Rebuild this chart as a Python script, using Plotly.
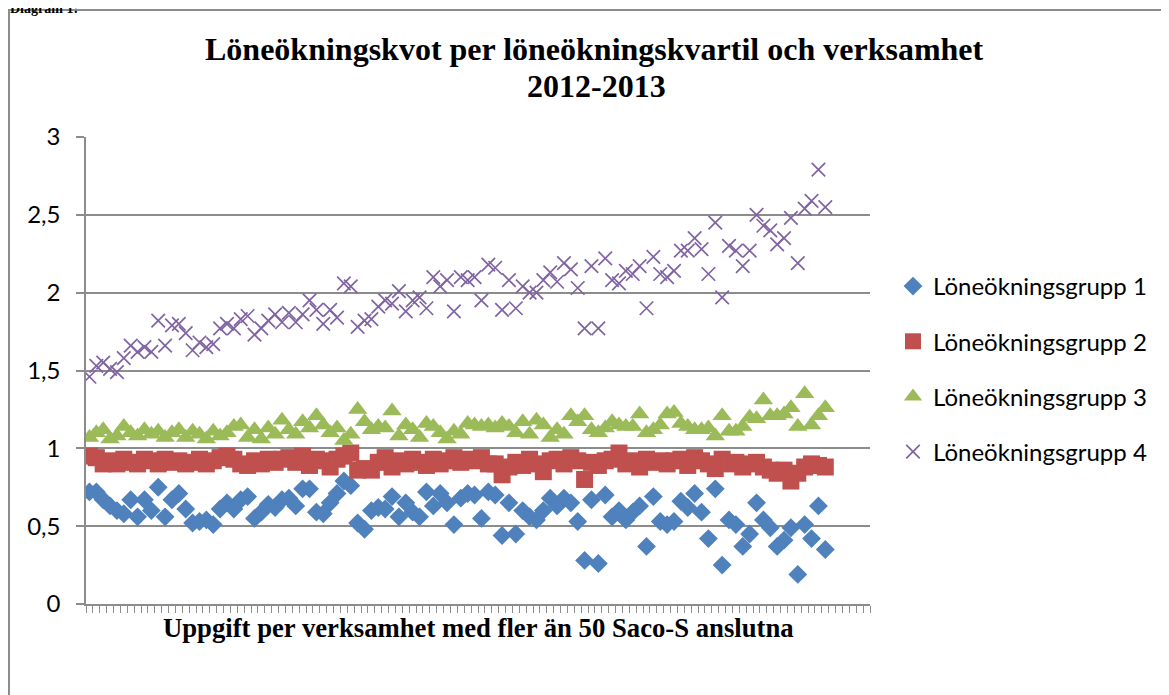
import plotly.graph_objects as go

series_names = ["Löneökningsgrupp 1", "Löneökningsgrupp 2", "Löneökningsgrupp 3", "Löneökningsgrupp 4"]
n_categories = 114

g1 = [0.72,0.72,0.67,0.63,0.60,0.58,0.67,0.56,0.67,0.60,
      0.75,0.56,0.67,0.71,0.61,0.52,0.53,0.54,0.51,0.61,
      0.65,0.61,0.67,0.69,0.55,0.59,0.64,0.62,0.67,0.68,
      0.63,0.74,0.74,0.59,0.58,0.65,0.71,0.79,0.76,0.52,
      0.48,0.60,0.62,0.61,0.69,0.56,0.65,0.59,0.56,0.72,
      0.63,0.71,0.65,0.51,0.68,0.71,0.70,0.55,0.72,0.70,
      0.44,0.65,0.45,0.60,0.56,0.54,0.60,0.68,0.63,0.68,
      0.65,0.53,0.28,0.67,0.26,0.70,0.56,0.60,0.54,0.59,
      0.63,0.37,0.69,0.53,0.51,0.53,0.66,0.62,0.71,0.59,
      0.42,0.74,0.25,0.54,0.51,0.37,0.45,0.65,0.54,0.49,
      0.37,0.41,0.49,0.19,0.51,0.42,0.63,0.35]

g2 = [0.95,0.94,0.90,0.92,0.90,0.93,0.91,0.90,0.93,0.92,
      0.90,0.93,0.91,0.92,0.90,0.91,0.93,0.90,0.92,0.94,
      0.95,0.93,0.90,0.89,0.92,0.90,0.93,0.91,0.93,0.94,
      0.91,0.95,0.89,0.93,0.92,0.88,0.93,0.95,0.97,0.86,
      0.87,0.86,0.91,0.94,0.88,0.92,0.90,0.93,0.91,0.89,
      0.93,0.90,0.92,0.94,0.91,0.93,0.92,0.94,0.90,0.90,
      0.83,0.88,0.91,0.89,0.93,0.90,0.85,0.92,0.93,0.90,
      0.94,0.92,0.80,0.91,0.89,0.92,0.93,0.97,0.90,0.92,
      0.88,0.93,0.91,0.92,0.90,0.92,0.93,0.89,0.94,0.92,
      0.90,0.87,0.93,0.90,0.91,0.88,0.90,0.91,0.88,0.86,
      0.84,0.86,0.79,0.84,0.88,0.90,0.89,0.88]

g3 = [1.07,1.10,1.12,1.06,1.08,1.14,1.10,1.08,1.12,1.09,
      1.11,1.07,1.10,1.12,1.07,1.11,1.09,1.06,1.11,1.08,
      1.10,1.14,1.15,1.07,1.12,1.06,1.13,1.09,1.18,1.12,
      1.09,1.17,1.13,1.21,1.15,1.10,1.13,1.05,1.09,1.25,
      1.17,1.12,1.14,1.13,1.24,1.08,1.15,1.12,1.07,1.16,
      1.14,1.10,1.06,1.11,1.09,1.16,1.15,1.14,1.15,1.13,
      1.16,1.14,1.10,1.17,1.09,1.18,1.15,1.07,1.12,1.09,
      1.21,1.17,1.21,1.12,1.10,1.13,1.17,1.15,1.14,1.14,
      1.22,1.10,1.12,1.15,1.22,1.23,1.16,1.14,1.12,1.12,
      1.13,1.08,1.21,1.11,1.11,1.14,1.20,1.19,1.31,1.21,
      1.21,1.22,1.26,1.14,1.35,1.15,1.21,1.26]

g4 = [1.46,1.53,1.55,1.51,1.49,1.58,1.66,1.62,1.65,1.62,
      1.82,1.66,1.79,1.80,1.74,1.63,1.68,1.65,1.67,1.77,
      1.80,1.77,1.83,1.85,1.73,1.77,1.82,1.86,1.81,1.87,
      1.81,1.86,1.95,1.89,1.80,1.89,1.84,2.06,2.04,1.78,
      1.82,1.83,1.91,1.95,1.93,2.01,1.88,1.95,1.97,1.90,
      2.10,2.04,2.08,1.88,2.10,2.08,2.10,1.95,2.18,2.16,
      1.89,2.08,1.90,2.04,2.00,2.00,2.08,2.13,2.07,2.19,
      2.15,2.03,1.77,2.17,1.77,2.22,2.08,2.06,2.14,2.12,
      2.17,1.90,2.23,2.12,2.10,2.14,2.27,2.27,2.35,2.28,
      2.12,2.45,1.97,2.30,2.27,2.17,2.27,2.50,2.43,2.40,
      2.31,2.35,2.48,2.19,2.54,2.59,2.79,2.55]

y_ticks = [0, 0.5, 1, 1.5, 2, 2.5, 3]

# The page body has an 8px margin, so the figure is offset by 8px in the screenshot.
OFF = 8
W, H = 1169 - OFF, 695 - OFF
# plot area in screenshot pixels: x 86..870, y 137..604
ML, MT = 86 - OFF, 137 - OFF
MR = W - (870 - OFF)
MB = H - (604 - OFF)
PW, PH = W - ML - MR, H - MT - MB


def px_x(px):
    return (px - OFF - ML) / PW


def px_y(py):
    return (H - MB - (py - OFF)) / PH


x = list(range(1, len(g1) + 1))
styles = [
    dict(symbol="diamond", size=14.5, color="#4F81BD"),
    dict(symbol="square", size=17, color="#C0504D"),
    dict(symbol="triangle-up", size=17, color="#9BBB59"),
    dict(symbol="x-thin", size=13.5, color="#8064A2", line=dict(width=1.7, color="#8064A2")),
]

fig = go.Figure()
for name, vals, st in zip(series_names, [g1, g2, g3, g4], styles):
    fig.add_trace(go.Scatter(x=x, y=vals, mode="markers", name=name, marker=st,
                             legendgroup=name))

grid_col = "#8C8C8C"
fig.update_layout(
    width=W, height=H,
    margin=dict(l=ML, r=MR, t=MT, b=MB, autoexpand=False),
    paper_bgcolor="white", plot_bgcolor="white",
    separators=", ",
    showlegend=True,
    legend=dict(x=px_x(893), y=px_y(264), xanchor="left", yanchor="top",
                font=dict(family="Lato", size=24, color="#000"),
                tracegroupgap=21, traceorder="grouped", bgcolor="rgba(0,0,0,0)"),
    xaxis=dict(range=[0.5, n_categories + 0.5], showgrid=False, zeroline=False,
               showline=True, linecolor=grid_col, linewidth=1.5,
               tickmode="array", tickvals=[i + 0.5 for i in range(n_categories + 1)],
               ticks="outside", ticklen=7, tickwidth=1.2, tickcolor=grid_col,
               showticklabels=False),
    yaxis=dict(range=[0, 3], tickmode="array", tickvals=y_ticks,
               showgrid=True, gridcolor=grid_col, gridwidth=1.5, zeroline=False,
               showline=True, linecolor=grid_col, linewidth=1.5,
               ticks="outside", ticklen=8, tickwidth=1.5, tickcolor=grid_col,
               ticklabelstandoff=11,
               tickfont=dict(family="Lato", size=24, color="#000")),
    shapes=[dict(type="rect", xref="paper", yref="paper",
                 x0=px_x(9), x1=px_x(1164), y0=px_y(705), y1=px_y(10),
                 line=dict(color=grid_col, width=2), fillcolor="rgba(0,0,0,0)", layer="below")],
    annotations=[
        dict(text="<b>Löneökningskvot per löneökningskvartil och verksamhet</b>",
             xref="paper", yref="paper", x=px_x(594), y=px_y(49), xanchor="center", yanchor="middle",
             showarrow=False, font=dict(family="Liberation Serif", size=32, color="#000")),
        dict(text="<b>2012-2013</b>",
             xref="paper", yref="paper", x=px_x(596), y=px_y(86), xanchor="center", yanchor="middle",
             showarrow=False, font=dict(family="Liberation Serif", size=32, color="#000")),
        dict(text="<b>Uppgift per verksamhet med fler än 50 Saco-S anslutna</b>",
             xref="paper", yref="paper", x=px_x(478.5), y=px_y(628), xanchor="center", yanchor="middle",
             showarrow=False, font=dict(family="Liberation Serif", size=26.7, color="#000")),
        dict(text="<b>Diagram 1:</b>",
             xref="paper", yref="paper", x=px_x(8), y=px_y(18), xanchor="left", yanchor="bottom",
             showarrow=False, font=dict(family="Liberation Serif", size=14, color="#000")),
    ],
)

fig.write_html("out.html")
